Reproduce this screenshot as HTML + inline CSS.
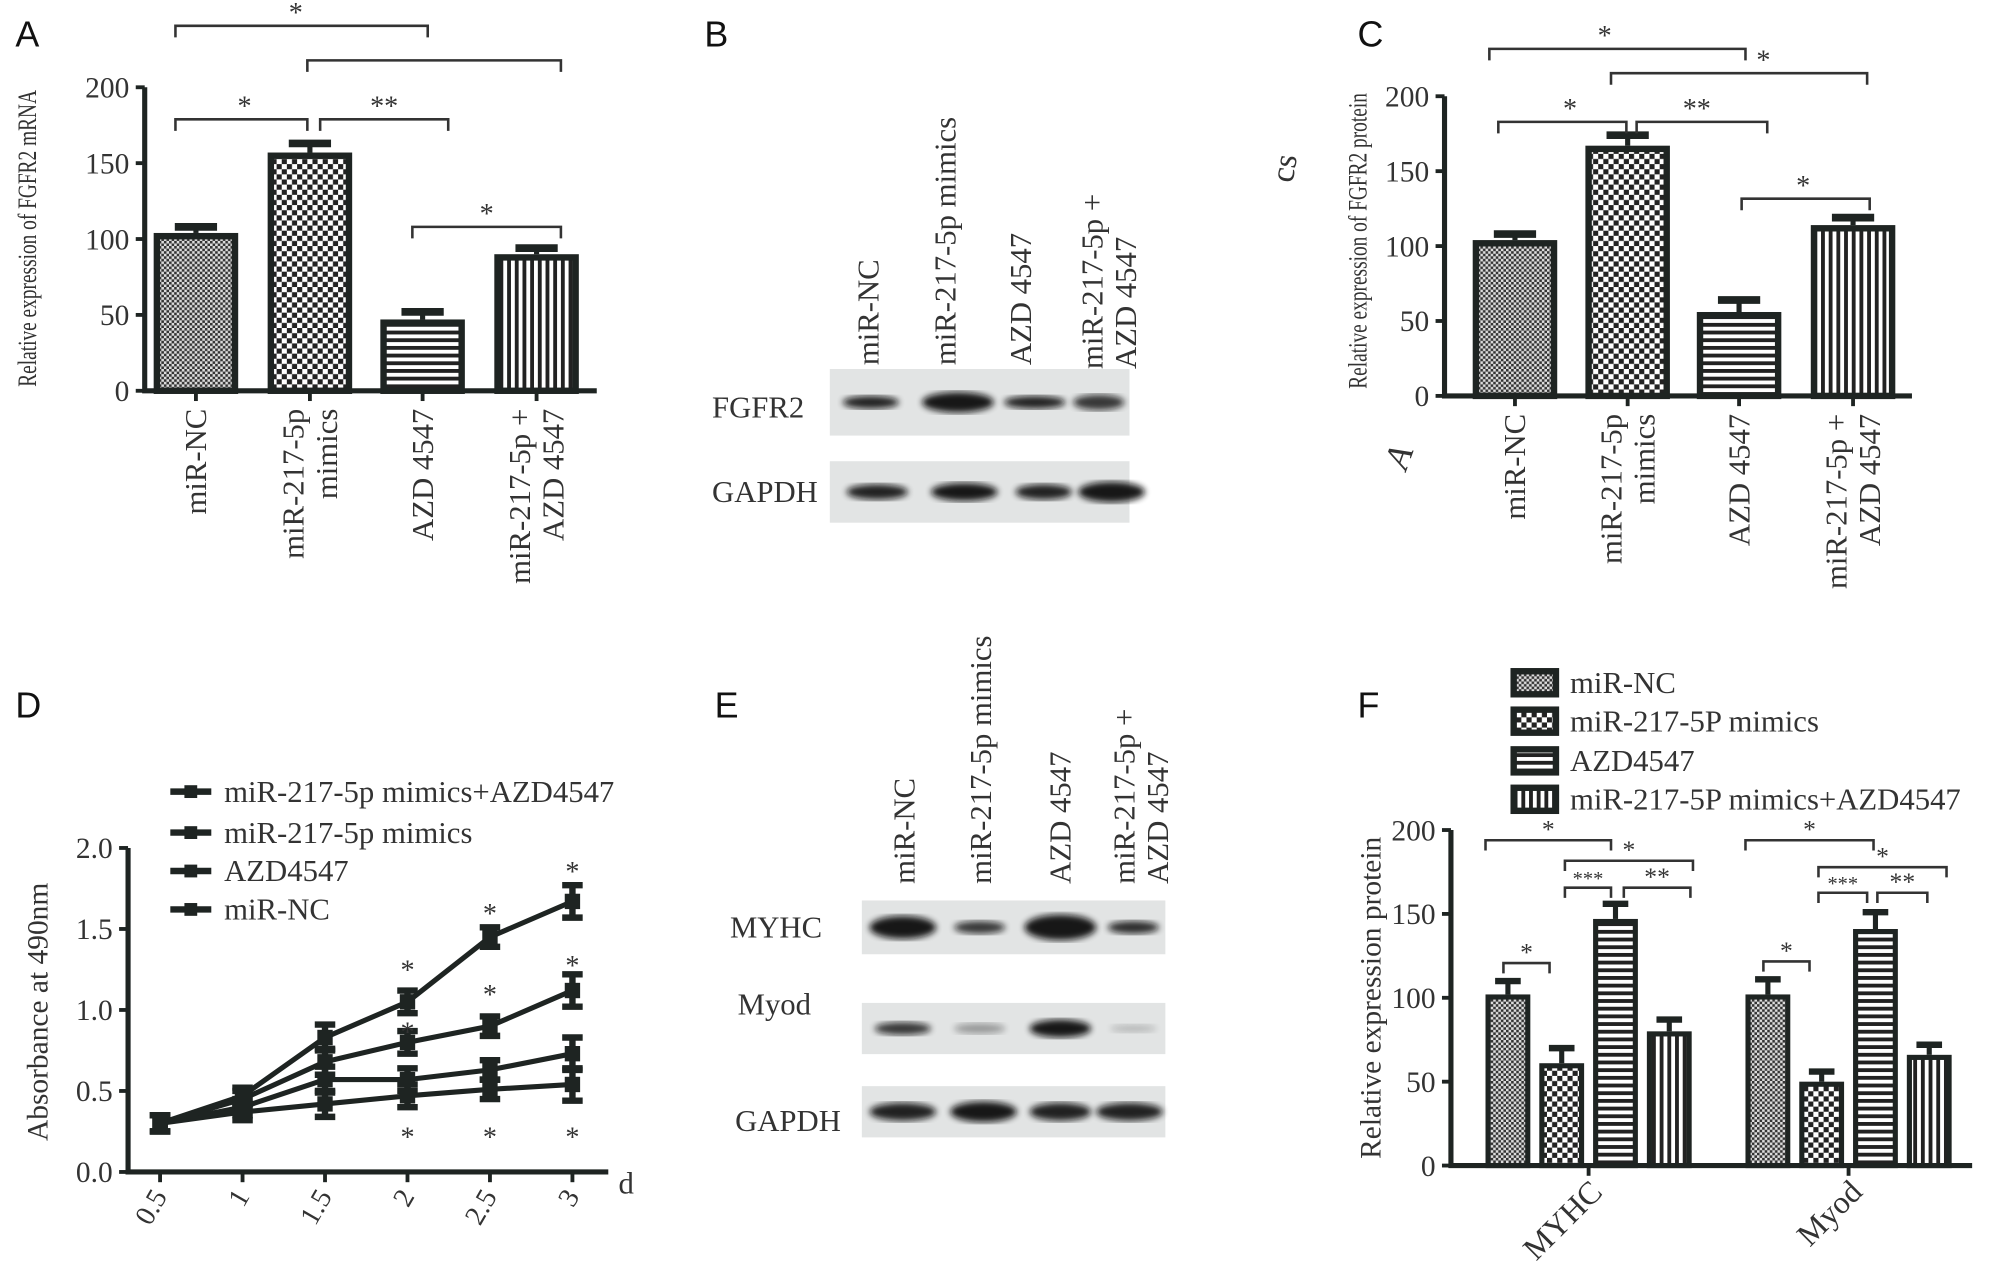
<!DOCTYPE html>
<html><head><meta charset="utf-8"><style>
html,body{margin:0;padding:0;background:#fff}
svg{display:block}
text{font-family:"Liberation Serif",serif;fill:#333}
.let{font-family:"Liberation Sans",sans-serif;fill:#111;font-size:28px}
</style></head><body>
<svg id="fig" width="2008" height="1281" viewBox="0 0 1568 1000" xmlns="http://www.w3.org/2000/svg">
<defs>
<pattern id="pNC" width="4" height="4" patternUnits="userSpaceOnUse"><rect width="4" height="4" fill="#ddd"/><rect width="2" height="2" fill="#333"/><rect x="2" y="2" width="2" height="2" fill="#333"/></pattern>
<pattern id="pMM" width="8" height="8" patternUnits="userSpaceOnUse"><rect width="8" height="8" fill="#fff"/><rect width="4" height="4" fill="#222"/><rect x="4" y="4" width="4" height="4" fill="#222"/></pattern>
<pattern id="pAZ" width="6" height="6" patternUnits="userSpaceOnUse"><rect width="6" height="6" fill="#fff"/><rect width="6" height="3" fill="#222"/></pattern>
<pattern id="pCB" width="6" height="6" patternUnits="userSpaceOnUse"><rect width="6" height="6" fill="#fff"/><rect width="3" height="6" fill="#222"/></pattern>
<filter id="blur"><feGaussianBlur stdDeviation="2.5"/></filter>
</defs>
<g id="root"></g>
</svg>
<script>
// ---- Panel A data
const catsA = ["miR-NC","miR-217-5p|mimics","AZD 4547","miR-217-5p +|AZD 4547"];
const valsA = [104,157,47,90];
const errA = [4,6,5,4];
// ---- Panel C data
const valsC = [104,167,56,114];
const errC = [4,7,8,5];
// ---- Panel D data
const daysD = [0.5,1,1.5,2,2.5,3];
const seriesNamesD = ["miR-217-5p mimics+AZD4547","miR-217-5p mimics","AZD4547","miR-NC"];
const sCombo = [0.30,0.47,0.83,1.05,1.45,1.67];
const sMimic = [0.30,0.45,0.68,0.80,0.90,1.12];
const sAZD = [0.30,0.40,0.57,0.57,0.63,0.73];
const sNC = [0.30,0.37,0.42,0.47,0.51,0.54];
const errD = [0.05,0.05,0.08,0.07,0.06,0.1];
const ticksD = [0.0,0.5,1.0,1.5,2.0];
// ---- Panel F data
const groupsF = ["MYHC","Myod"];
const legendF = ["miR-NC","miR-217-5P mimics","AZD4547","miR-217-5P mimics+AZD4547"];
const valsMYHC = [102,61,147,80];
const valsMyod = [102,50,141,66];
const errMYHC = [8,9,9,7];
const errMyod = [9,6,10,6];
const ticks200 = [0,50,100,150,200];

const NS="http://www.w3.org/2000/svg";
const root=document.getElementById('root');
const DK="#1e2422";
function el(tag,attrs,parent,txt){const e=document.createElementNS(NS,tag);for(const k in attrs)e.setAttribute(k,attrs[k]);if(txt!==undefined)e.textContent=txt;(parent||root).appendChild(e);return e;}
const pats=["url(#pNC)","url(#pMM)","url(#pAZ)","url(#pCB)"];

function barPanel(o){
  const g=el('g',{});
  
  
  const y=v=>o.y0-(v/200)*(o.y0-o.y200);
  const ax=el('path',{d:`M${o.ax},${y(200)} V${o.y0} H${o.axEnd}`,stroke:DK,'stroke-width':4,fill:'none'},g);
  
  
  ticks200.forEach(t=>{
    el('line',{x1:o.ax-7,x2:o.ax,y1:y(t),y2:y(t),stroke:DK,'stroke-width':3},g);
    const tl=el('text',{x:o.ax-12,y:y(t)+8,'text-anchor':'end','font-size':23},g,String(t));
    
    
  });
  o.vals.forEach((v,i)=>{
    const cx=o.cx[i],w=o.bw;
    const b=el('rect',{x:cx-w/2+2.5,y:y(v)+2.5,width:w-5,height:o.y0-y(v)-2.5,fill:pats[i],stroke:DK,'stroke-width':5},g);
    
    
    const e=o.err[i];
    el('line',{x1:cx,x2:cx,y1:y(v),y2:y(v+e),stroke:DK,'stroke-width':4},g);
    el('line',{x1:cx-w*0.25,x2:cx+w*0.25,y1:y(v+e),y2:y(v+e),stroke:DK,'stroke-width':6},g);
    el('line',{x1:cx,x2:cx,y1:o.y0,y2:o.y0+8,stroke:DK,'stroke-width':3},g);
    if(o.labels){
      const parts=o.labels[i].split('|');
      const t=el('text',{transform:`translate(${cx},${o.y0+14}) rotate(-90)`,'text-anchor':'end','font-size':24,fill:'#444'},g);
      
      
      parts.forEach((p,k)=>{el('tspan',{x:0,y:(k-(parts.length-1)/2)*26+8},t,p);});
    }
  });
  const yt=el('text',{transform:`translate(${o.ytx},${o.yty}) rotate(-90) scale(0.72,1)`,'text-anchor':'middle','font-size':21},g,o.ytitle);
  
  
  o.brackets.forEach(b=>{
    el('path',{d:`M${b[0]},${b[2]+9} V${b[2]} H${b[1]} V${b[2]+9}`,stroke:'#333','stroke-width':2,fill:'none'},g);
    if(b[3]){const s=el('text',{x:b[4]!==undefined?b[4]:(b[0]+b[1])/2,y:b[2]-3,'text-anchor':'middle','font-size':b[5]||22,fill:'#555'},g,b[3]);
      
      }
  });
  return g;
}

barPanel({name:'panel-a-chart',ax:113,axEnd:466,y0:305,y200:68,cx:[153,242,330,419],bw:66,vals:valsA,err:errA,labels:catsA,
  ytitle:'Relative expression of FGFR2 mRNA',ytx:28,yty:186,
  brackets:[[137,334,20,'*',231],[240,438,47,''],[137,240,93,'*',191],[250,350,93,'**'],[322,438,177,'*']]});
barPanel({name:'panel-c-chart',ax:1128,axEnd:1493,y0:309,y200:75,cx:[1183,1271,1358,1447],bw:66,vals:valsC,err:errC,labels:catsA,
  ytitle:'Relative expression of FGFR2 protein',ytx:1067,yty:188,
  brackets:[[1163,1363,38,'*',1253],[1258,1458,57,'*',1377],[1170,1270,95,'*',1226],[1278,1380,95,'**',1325],[1360,1460,155,'*',1408]]});
el('text',{x:993,y:140,'font-size':26,fill:'#444',transform:'rotate(-80 1003 132)'},root,'cs');
el('text',{x:1082,y:365,'font-size':28,'font-style':'italic',fill:'#444',transform:'rotate(-70 1092 355)'},root,'A');

// Panel F
(function(){
  const o={ax:1133,axEnd:1540,y0:910,y200:648};
  const g=el('g',{});
  
  
  const y=v=>o.y0-(v/200)*(o.y0-o.y200);
  el('path',{d:`M${o.ax},${y(200)} V${o.y0} H${o.axEnd}`,stroke:DK,'stroke-width':4,fill:'none'},g);
  ticks200.forEach(t=>{
    el('line',{x1:o.ax-7,x2:o.ax,y1:y(t),y2:y(t),stroke:DK,'stroke-width':3},g);
    const tl=el('text',{x:o.ax-12,y:y(t)+8,'text-anchor':'end','font-size':23},g,String(t));
    
    
  });
  const groupStart=[1160,1363],bw=35,gap=42;
  const small=[];
  [valsMYHC,valsMyod].forEach((vals,gi)=>{
    const errs=gi===0?errMYHC:errMyod;
    vals.forEach((v,i)=>{
      const x0=groupStart[gi]+i*gap, cx=x0+bw/2;
      const b=el('rect',{x:x0+2,y:y(v)+2,width:bw-4,height:o.y0-y(v)-2,fill:pats[i],stroke:DK,'stroke-width':4},g);
      
      
      const e=errs[i];
      el('line',{x1:cx,x2:cx,y1:y(v),y2:y(v+e),stroke:DK,'stroke-width':4},g);
      el('line',{x1:cx-10,x2:cx+10,y1:y(v+e),y2:y(v+e),stroke:DK,'stroke-width':5},g);
      if(i===0) small.push([x0+14,x0+50,y(v+e)-14,'*']);
    });
    const gc=groupStart[gi]+(3*gap+bw)/2;
    el('line',{x1:gc,x2:gc,y1:o.y0,y2:o.y0+8,stroke:DK,'stroke-width':3},g);
    const t=el('text',{transform:`translate(${gc+12},${o.y0+22}) rotate(-45)`,'text-anchor':'end','font-size':25,fill:'#444'},g,groupsF[gi]);
    
    
  });
  const br=[[1160,1258,656,'*'],[1222,1322,672,'*'],[1222,1258,693,'***'],[1268,1320,693,'**'],
            [1363,1463,656,'*'],[1420,1520,677,'*'],[1420,1458,697,'***'],[1466,1505,697,'**']].concat(small);
  br.forEach(b=>{
    el('path',{d:`M${b[0]},${b[2]+8} V${b[2]} H${b[1]} V${b[2]+8}`,stroke:'#333','stroke-width':2,fill:'none'},g);
    const s=el('text',{x:(b[0]+b[1])/2,y:b[2]-2,'text-anchor':'middle','font-size':b[3]==='***'?16:20,fill:'#555'},g,b[3]);
    
    
  });
  const yt=el('text',{transform:`translate(1078,779) rotate(-90)`,'text-anchor':'middle','font-size':23},g,'Relative expression protein');
  
  
  const ly=[533,563,594,624];
  legendF.forEach((n,i)=>{
    const r=el('rect',{x:1182,y:ly[i]-9,width:33,height:18,fill:pats[i],stroke:DK,'stroke-width':5},g);
    
    
    const t=el('text',{x:1226,y:ly[i]+8,'font-size':24},g,n);
    
    
  });
})();

// Panel D
(function(){
  const g=el('g',{});
  
  
  const X=d=>125+(d-0.5)*128.8;
  const Y=v=>915-v*126.5;
  el('path',{d:`M100,${Y(2)} V915 H475`,stroke:DK,'stroke-width':4,fill:'none'},g);
  ticksD.forEach(t=>{
    el('line',{x1:93,x2:100,y1:Y(t),y2:Y(t),stroke:DK,'stroke-width':3},g);
    const tl=el('text',{x:88,y:Y(t)+8,'text-anchor':'end','font-size':23},g,t.toFixed(1));
    
    
  });
  daysD.forEach(d=>{
    el('line',{x1:X(d),x2:X(d),y1:915,y2:923,stroke:DK,'stroke-width':3},g);
    const tl=el('text',{transform:`translate(${X(d)+6},${934}) rotate(-60)`,'text-anchor':'end','font-size':22},g,String(d));
    
    
  });
  el('text',{x:483,y:932,'font-size':24},g,'d');
  const yt=el('text',{transform:'translate(37,790) rotate(-90)','text-anchor':'middle','font-size':23},g,'Absorbance at 490nm');
  
  
  const series=[sCombo,sMimic,sAZD,sNC];
  series.forEach((s,si)=>{
    const p=el('polyline',{points:s.map((v,i)=>X(daysD[i])+','+Y(v)).join(' '),fill:'none',stroke:DK,'stroke-width':4},g);
    
    
    s.forEach((v,i)=>{
      const x=X(daysD[i]),yy=Y(v),e=errD[i]*126.5;
      el('path',{d:`M${x},${yy-e} V${yy+e} M${x-8},${yy-e} H${x+8} M${x-8},${yy+e} H${x+8}`,stroke:DK,'stroke-width':5,fill:'none'},g);
      const m=el('rect',{x:x-6,y:yy-6,width:12,height:12,fill:DK},g);
      
      
    });
  });
  const stars=[[2,1.25],[2.5,1.6],[3,1.86],[2,0.87],[2.5,1.1],[3,1.28],[2,0.22],[2.5,0.22],[3,0.22]];
  stars.forEach(s=>{el('text',{x:X(s[0]),y:Y(s[1])+8,'text-anchor':'middle','font-size':22,fill:'#555'},g,'*');});
  const ly=[618,650,680,710];
  seriesNamesD.forEach((n,i)=>{
    el('line',{x1:133,x2:165,y1:ly[i],y2:ly[i],stroke:DK,'stroke-width':5},g);
    el('rect',{x:144,y:ly[i]-5,width:10,height:10,fill:DK},g);
    const t=el('text',{x:175,y:ly[i]+8,'font-size':24},g,n);
    
    
  });
})();

function blot(x,y,w,h,bands,name){
  const g=el('g',{});
  
  
  el('rect',{x:x,y:y,width:w,height:h,fill:'#e2e4e4'},g);
  bands.forEach(b=>{el('ellipse',{cx:b[0],cy:y+h/2,rx:b[1],ry:b[2],fill:'#111',opacity:b[3],filter:'url(#blur)'},g);});
}
blot(648,288,234,52,[[680,22,5,0.9],[748,28,8,0.95],[808,24,5,0.9],[858,20,6,0.8]],'fgfr2-blot');
blot(648,360,234,48,[[685,24,6,0.9],[753,26,7,0.95],[815,22,6,0.9],[868,26,8,0.95]],'gapdh-blot-b');
blot(673,703,237,42,[[705,26,9,0.95],[765,20,5,0.8],[828,28,10,0.95],[885,20,5,0.85]],'myhc-blot');
blot(673,783,237,40,[[705,22,5,0.8],[765,20,4,0.35],[828,24,7,0.95],[885,18,3,0.2]],'myod-blot');
blot(673,848,237,40,[[705,26,7,0.9],[768,26,8,0.95],[828,24,7,0.9],[882,26,7,0.9]],'gapdh-blot-e');
function lab(x,y,t,n){const e=el('text',{x:x,y:y,'font-size':24,fill:'#444'},root,t);}
lab(556,326,'FGFR2','fgfr2-label');lab(556,392,'GAPDH','gapdh-label');
lab(570,732,'MYHC','myhc-label');lab(576,792,'Myod','myod-label');lab(574,883,'GAPDH','gapdh-label-e');
function vlab(x,yb,lines,n){const t=el('text',{transform:`translate(${x},${yb}) rotate(-90)`,'font-size':24,fill:'#444'},root);
  
  lines.forEach((p,k)=>el('tspan',{x:0,y:(k-(lines.length-1)/2)*26+8},t,p));}
vlab(678,285,['miR-NC'],'lane-label');vlab(738,285,['miR-217-5p mimics'],'lane-label');vlab(797,285,['AZD 4547'],'lane-label');vlab(866,288,['miR-217-5p +','AZD 4547'],'lane-label');
vlab(706,690,['miR-NC'],'lane-label');vlab(766,690,['miR-217-5p mimics'],'lane-label');vlab(828,690,['AZD 4547'],'lane-label');vlab(891,690,['miR-217-5p +','AZD 4547'],'lane-label');

[['A',12,36],['B',550,36],['C',1060,36],['D',12,560],['E',558,560],['F',1060,560]].forEach(l=>{
  const t=el('text',{x:l[1],y:l[2],class:'let'},root,l[0]);
  
  
});
</script>
</body></html>
